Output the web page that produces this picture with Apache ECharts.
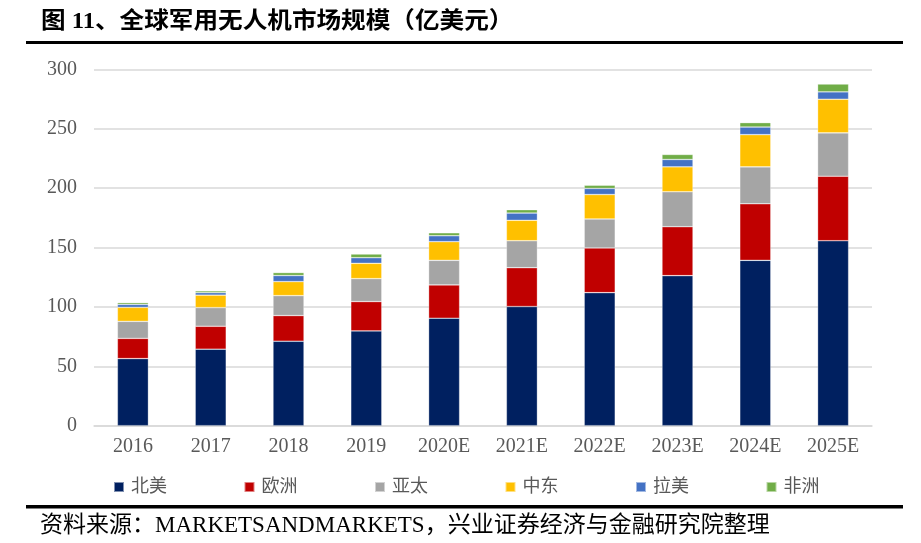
<!DOCTYPE html>
<html>
<head>
<meta charset="utf-8">
<script src="https://cdn.jsdelivr.net/npm/echarts@6/dist/echarts.min.js"></script>
<style>html,body{margin:0;padding:0;background:#fff;}#c{width:921px;height:543px;}</style>
</head>
<body>
<div id="c"></div>
<script>
const categories = ['2016','2017','2018','2019','2020E','2021E','2022E','2023E','2024E','2025E'];
const northAmerica = [56.5, 64.4, 71.1, 79.8, 90.5, 100.3, 112.0, 126.3, 139.2, 155.7];
const europe       = [17.0, 19.3, 21.6, 24.7, 28.0, 32.7, 37.6, 41.2, 47.6, 54.3];
const asiaPacific  = [14.3, 15.7, 16.8, 19.3, 20.7, 22.7, 24.4, 29.4, 31.1, 36.5];
const middleEast   = [11.8, 10.5, 11.8, 12.9, 15.7, 17.2, 20.6, 21.0, 27.1, 28.3];
const latinAmerica = [2.5, 2.1, 5.1, 4.7, 5.0, 6.1, 5.1, 6.2, 6.4, 6.2];
const africa       = [1.5, 1.5, 2.5, 3.1, 2.5, 2.8, 2.7, 4.2, 3.7, 6.6];
const seriesNames = ['北美','欧洲','亚太','中东','拉美','非洲'];
const yTicks = [0, 50, 100, 150, 200, 250, 300];

const colors = ['#002060','#C00000','#A5A5A5','#FFC000','#4472C4','#70AD47'];
const dataSets = [northAmerica, europe, asiaPacific, middleEast, latinAmerica, africa];

const chart = echarts.init(document.getElementById('c'), null, {renderer:'canvas'});
const serif = "'Liberation Serif','Times New Roman','Noto Sans CJK SC',serif";
const cjk = "'Liberation Serif','Noto Sans CJK SC',sans-serif";

chart.setOption({
  animation: false,
  backgroundColor: '#fff',
  color: colors,
  grid: { left: 94, right: 49, top: 69.3, bottom: 117.3, containLabel: false },
  legend: {
    data: seriesNames,
    left: 108, top: 473,
    itemWidth: 10, itemHeight: 10, itemGap: 76.5,
    icon: 'rect',
    textStyle: { color: '#595959', fontSize: 18, fontFamily: cjk, padding:[0,0,0,2] }
  },
  xAxis: {
    type: 'category',
    data: categories,
    axisLine: { show: true, lineStyle: { color: '#d9d9d9', width: 1.5 } },
    axisTick: { show: false },
    axisLabel: { color: '#595959', fontSize: 20, fontFamily: serif, margin: 11 },
  },
  yAxis: {
    type: 'value',
    min: yTicks[0], max: yTicks[yTicks.length-1], interval: 50,
    axisLine: { show: false },
    axisTick: { show: false },
    axisLabel: { color: '#595959', fontSize: 20, fontFamily: serif, margin: 17 },
    splitLine: { lineStyle: { color: '#d9d9d9', width: 1.5 } }
  },
  series: seriesNames.map((n, i) => ({
    name: n,
    type: 'bar',
    stack: 'total',
    barWidth: 31,
    data: dataSets[i],
    itemStyle: { color: colors[i], borderColor: 'rgba(255,255,255,0.5)', borderWidth: 0.6 }
  })),
  graphic: [
    { type: 'text', x: 41, y: 11, scaleX: 1.07,
      style: { text: '图 11、全球军用无人机市场规模（亿美元）', font: "bold 23px 'Liberation Serif','Noto Sans CJK SC',sans-serif", fill: '#000' } },
    { type: 'rect', shape: { x: 26, y: 41, width: 877, height: 3 }, style: { fill: '#000' } },
    { type: 'rect', shape: { x: 26, y: 505, width: 877, height: 3.5 }, style: { fill: '#000' } },
    { type: 'text', left: 40, top: 514,
      style: { text: '资料来源：MARKETSANDMARKETS，兴业证券经济与金融研究院整理', font: "23px 'Liberation Serif','Noto Sans CJK SC',serif", fill: '#000' } }
  ]
});
</script>
</body>
</html>
